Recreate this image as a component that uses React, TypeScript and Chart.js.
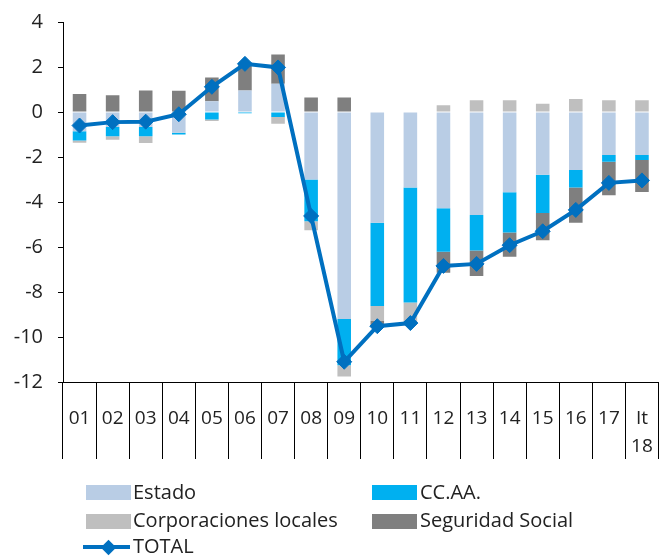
import React, { useEffect, useRef } from 'react';
import { Chart, registerables } from 'chart.js';

Chart.register(...registerables);

const categories: (string | string[])[] = [
  '01', '02', '03', '04', '05', '06', '07', '08', '09', '10',
  '11', '12', '13', '14', '15', '16', '17', ['It', '18'],
];

const estado = [-0.85, -0.67, -0.67, -0.92, 0.48, 0.96, 1.26, -3.0, -9.2, -4.92, -3.36, -4.28, -4.58, -3.57, -2.79, -2.58, -1.91, -1.91];
const ccaa = [-0.42, -0.41, -0.41, -0.08, -0.33, -0.06, -0.22, -1.86, -2.06, -3.7, -5.11, -1.93, -1.57, -1.78, -1.7, -0.77, -0.3, -0.22];
const corporaciones = [-0.1, -0.15, -0.3, 0, -0.07, 0, -0.3, -0.4, -0.5, -0.67, -0.89, 0.3, 0.52, 0.52, 0.37, 0.58, 0.52, 0.52];
const seguridad = [0.8, 0.75, 0.96, 0.94, 1.05, 1.2, 1.3, 0.65, 0.65, -0.25, 0, -0.93, -1.14, -1.08, -1.21, -1.57, -1.49, -1.43];
const total = [-0.6, -0.45, -0.43, -0.1, 1.12, 2.14, 1.98, -4.62, -11.1, -9.52, -9.38, -6.84, -6.75, -5.92, -5.3, -4.35, -3.15, -3.04];

const yTicks = { min: -12, max: 4, step: 2 };

const C_ESTADO = '#B9CDE5';
const C_CCAA = '#00B0F0';
const C_CL = '#BFBFBF';
const C_SS = '#7F7F7F';
const C_TOTAL = '#0070C0';
const FONT = '"Open Sans", "DejaVu Sans", sans-serif';
const TEXT = '#222';

const legendItems = [
  { label: 'Estado', color: C_ESTADO, col: 0, row: 0 },
  { label: 'CC.AA.', color: C_CCAA, col: 1, row: 0 },
  { label: 'Corporaciones locales', color: C_CL, col: 0, row: 1 },
  { label: 'Seguridad Social', color: C_SS, col: 1, row: 1 },
];

export default function App() {
  const ref = useRef<HTMLCanvasElement>(null);

  useEffect(() => {
    const bar = (label: string, data: number[], color: string) => ({
      type: 'bar' as const,
      label,
      data,
      backgroundColor: color,
      borderWidth: 0,
      stack: 'bars',
      order: 1,
      categoryPercentage: 1,
      barPercentage: 0.41,
    });
    const chart = new Chart(ref.current!, {
      type: 'bar',
      data: {
        labels: categories,
        datasets: [
          bar('Estado', estado, C_ESTADO),
          bar('CC.AA.', ccaa, C_CCAA),
          bar('Corporaciones locales', corporaciones, C_CL),
          bar('Seguridad Social', seguridad, C_SS),
          {
            type: 'line' as const,
            label: 'TOTAL',
            data: total,
            borderColor: C_TOTAL,
            backgroundColor: C_TOTAL,
            borderWidth: 4,
            pointStyle: 'rectRot',
            pointRadius: 7.5,
            pointBorderWidth: 1,
            pointBackgroundColor: C_TOTAL,
            pointBorderColor: C_TOTAL,
            tension: 0,
            stack: 'total',
            order: 0,
          } as any,
        ],
      },
      options: {
        responsive: false,
        animation: false,
        devicePixelRatio: 1,
        layout: { padding: { top: 22, left: 0, right: 0, bottom: 0 } },
        plugins: { legend: { display: false }, tooltip: { enabled: false } },
        scales: {
          x: {
            stacked: true,
            offset: true,
            grid: {
              display: true,
              drawOnChartArea: false,
              drawTicks: true,
              tickLength: 77,
              color: '#000',
              lineWidth: 1,
              offset: true,
            },
            border: { display: true, color: '#000', width: 1 },
            ticks: {
              padding: -55,
              autoSkip: false,
              maxRotation: 0,
              color: TEXT,
              font: { family: FONT, size: 19, lineHeight: 1.5 },
            },
            afterFit: (s: any) => {
              s.height = 176;
            },
          },
          y: {
            stacked: true,
            min: yTicks.min,
            max: yTicks.max,
            ticks: {
              stepSize: yTicks.step,
              padding: 15,
              color: TEXT,
              font: { family: FONT, size: 20 },
            },
            grid: { drawOnChartArea: false, tickLength: 5, color: '#000', lineWidth: 1 },
            border: { display: true, color: '#000', width: 1 },
            afterFit: (s: any) => {
              s.width = 63;
              s.paddingTop = 10;
              s.paddingBottom = 10;
            },
          },
        },
      } as any,
    });
    return () => chart.destroy();
  }, []);

  const rowCenter = [492.5, 521, 547];
  const swatchX = [86, 372];
  const textX = [133, 420];

  return (
    <div style={{ position: 'fixed', left: 0, top: 0, width: 667, height: 558, background: '#fff', overflow: 'hidden' }}>
      <canvas ref={ref} width={667} height={558} style={{ display: 'block', position: 'absolute', left: 0, top: 0 }} />
      {legendItems.map((it) => (
        <React.Fragment key={it.label}>
          <div
            style={{
              position: 'absolute',
              left: swatchX[it.col],
              top: rowCenter[it.row] - 7.5,
              width: 45,
              height: 15,
              background: it.color,
            }}
          />
          <div
            style={{
              position: 'absolute',
              left: textX[it.col],
              top: rowCenter[it.row] - 14.6,
              height: 28,
              lineHeight: '28px',
              fontFamily: FONT,
              fontSize: 20,
              color: TEXT,
              whiteSpace: 'nowrap',
            }}
          >
            {it.label}
          </div>
        </React.Fragment>
      ))}
      <div style={{ position: 'absolute', left: 83, top: rowCenter[2] - 2, width: 47, height: 4, background: C_TOTAL }} />
      <div
        style={{
          position: 'absolute',
          left: 108 - 5.5,
          top: rowCenter[2] - 5.5,
          width: 11,
          height: 11,
          background: C_TOTAL,
          transform: 'rotate(45deg)',
        }}
      />
      <div
        style={{
          position: 'absolute',
          left: 133,
          top: rowCenter[2] - 14.6,
          height: 28,
          lineHeight: '28px',
          fontFamily: FONT,
          fontSize: 20,
          color: TEXT,
          whiteSpace: 'nowrap',
        }}
      >
        TOTAL
      </div>
    </div>
  );
}
